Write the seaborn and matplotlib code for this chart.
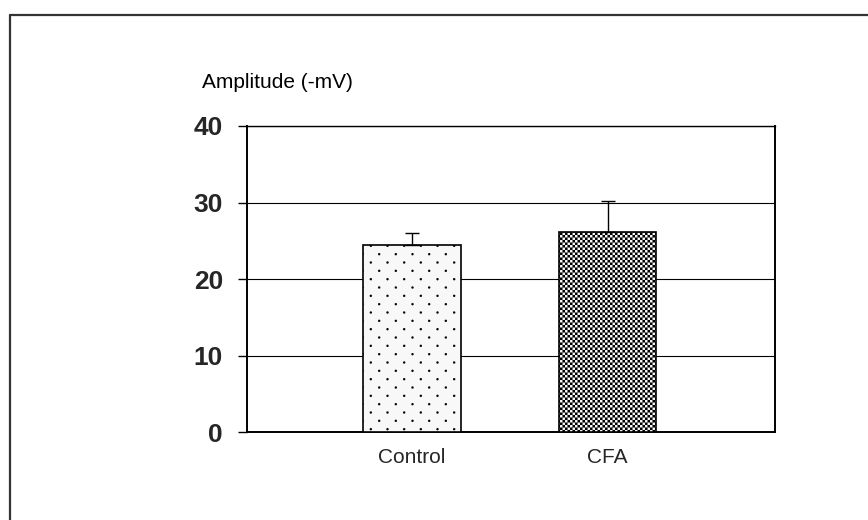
import warnings
import numpy as np
import matplotlib
matplotlib.use("Agg")
import matplotlib.pyplot as plt
import matplotlib.hatch as mhatch
from matplotlib.path import Path
from matplotlib.lines import Line2D
import seaborn as sns
import pandas as pd

warnings.filterwarnings("ignore")

# Mean amplitude per group with upper error (SEM)
groups = ["Control", "CFA"]
amplitude = [24.5, 26.2]
amplitude_err = [1.6, 4.0]
y_ticks = [0, 10, 20, 30, 40]
y_label = "Amplitude (-mV)"


class CheckerHatch(mhatch.HatchPatternBase):
    """Filled checkerboard fill, 'c' in the hatch string."""
    def __init__(self, hatch, density):
        self.k = 40 if "c" in hatch else 0
        self.num_vertices = (self.k * self.k // 2) * 5

    def set_vertices_and_codes(self, vertices, codes):
        k = self.k
        s = 1.0 / k
        sq = np.array([[0, 0], [1, 0], [1, 1], [0, 1], [0, 0]], float) * s
        sq_codes = [Path.MOVETO, Path.LINETO, Path.LINETO, Path.LINETO, Path.CLOSEPOLY]
        idx = 0
        for i in range(k):
            for j in range(k):
                if (i + j) % 2 == 0:
                    vertices[idx:idx + 5] = sq + [i * s, j * s]
                    codes[idx:idx + 5] = sq_codes
                    idx += 5


class DotLatticeHatch(mhatch.HatchPatternBase):
    """Staggered fine dots, 'd' in the hatch string."""
    cols = 6
    radius = 0.012
    nseg = 10

    def __init__(self, hatch, density):
        self.on = "d" in hatch
        n_dots = self.cols * self.cols * 2 if self.on else 0
        self.num_vertices = n_dots * (self.nseg + 1)

    def set_vertices_and_codes(self, vertices, codes):
        m = self.cols
        ang = np.linspace(0, 2 * np.pi, self.nseg, endpoint=False)
        ring = np.column_stack([np.cos(ang), np.sin(ang)]) * self.radius
        ring = np.vstack([ring, ring[:1]])
        ring_codes = [Path.MOVETO] + [Path.LINETO] * (self.nseg - 1) + [Path.CLOSEPOLY]
        n = self.nseg + 1
        idx = 0
        for r in range(2 * m):
            y = (r + 0.5) / (2 * m)
            off = 0.25 + 0.5 * (r % 2)
            for c in range(m):
                x = (c + off) / m
                vertices[idx:idx + n] = ring + [x, y]
                codes[idx:idx + n] = ring_codes
                idx += n


mhatch._hatch_types.append(CheckerHatch)
mhatch._hatch_types.append(DotLatticeHatch)

sns.set_theme(style="white")
plt.rcParams["font.family"] = ["Liberation Sans", "DejaVu Sans"]
plt.rcParams["hatch.linewidth"] = 0.05
plt.rcParams["hatch.color"] = "black"

df = pd.DataFrame({"group": groups, "amplitude": amplitude})

fig = plt.figure(figsize=(8.68, 5.2), dpi=100)
fig.patch.set_facecolor("white")
ax = fig.add_axes([0.2846, 0.1683, 0.6083, 0.5894])

sns.barplot(data=df, x="group", y="amplitude", color="white",
            width=0.5, errorbar=None, saturation=1, ax=ax, zorder=3)

faces = ["#f8f8f8", "white"]
hatches = ["d", "c"]
for patch, fc, h in zip(ax.patches, faces, hatches):
    patch.set_facecolor(fc)
    patch.set_edgecolor("black")
    patch.set_linewidth(1.2)
    patch.set_hatch(h)

# upper-only error bars
ax.errorbar(x=range(len(groups)), y=amplitude,
            yerr=[[0] * len(groups), amplitude_err],
            fmt="none", ecolor="black", elinewidth=1.0,
            capsize=4.7, capthick=1.0, zorder=4)

ax.set_ylim(0, 40)
ax.set_xlim(-0.844, 1.857)
ax.set_yticks(y_ticks)
ax.set_yticklabels([str(t) for t in y_ticks], fontsize=19, fontweight="bold")
ax.tick_params(axis="y", which="major", left=True, length=6.5, width=1.0,
               pad=10.8, color="black")
ax.tick_params(axis="x", length=0, pad=11, labelsize=15)
ax.set_xlabel("")
ax.set_ylabel("")

ax.set_axisbelow(True)
ax.yaxis.grid(True, color="black", linewidth=0.8)
ax.xaxis.grid(False)

for side, lw in [("left", 1.4), ("bottom", 1.4), ("right", 1.4), ("top", 1.0)]:
    ax.spines[side].set_visible(True)
    ax.spines[side].set_color("black")
    ax.spines[side].set_linewidth(lw)

fig.text(202 / 868, 1 - 88 / 520, y_label, fontsize=15,
         ha="left", va="baseline", color="black")

# outer frame (top and left edges)
fig.add_artist(Line2D([10 / 868, 1.0], [1 - 15 / 520, 1 - 15 / 520],
                      transform=fig.transFigure, color="#333333", linewidth=1.6))
fig.add_artist(Line2D([10 / 868, 10 / 868], [0.0, 1 - 15 / 520],
                      transform=fig.transFigure, color="#333333", linewidth=1.6))

fig.savefig("out.png", dpi=100)
